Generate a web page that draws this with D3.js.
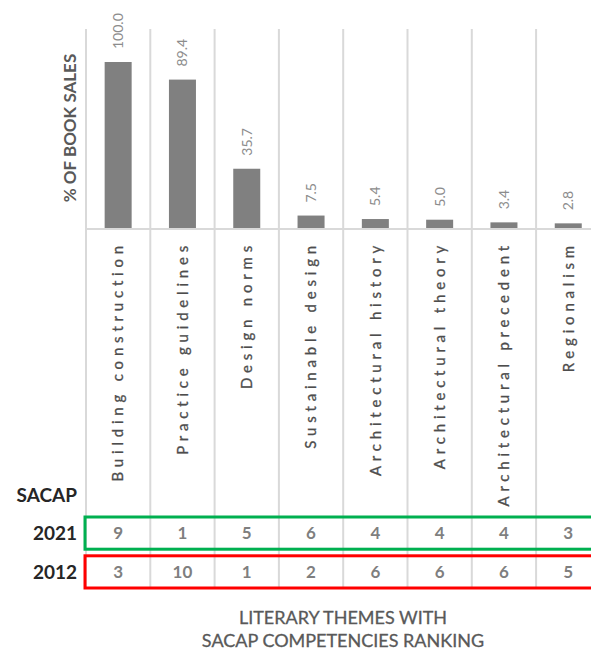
<!DOCTYPE html>
<html>
<head>
<meta charset="utf-8">
<script src="https://cdn.jsdelivr.net/npm/d3@7"></script>
<style>
  html, body { margin: 0; padding: 0; background: #fff; }
  svg { display: block; font-family: Lato, "Open Sans", sans-serif; }
</style>
</head>
<body>
<div class="svg-wrapper"></div>
<script>
// chart values
var themes   = ["Building construction", "Practice guidelines", "Design norms", "Sustainable design",
                "Architectural history", "Architectural theory", "Architectural precedent", "Regionalism"];
var sales    = [100.0, 89.4, 35.7, 7.5, 5.4, 5.0, 3.4, 2.8];
var years    = ["2021", "2012"];
var rank2021 = [9, 1, 5, 6, 4, 4, 4, 3];
var rank2012 = [3, 10, 1, 2, 6, 6, 6, 5];
var yAxisLabel = "% OF BOOK SALES";
var rowHeader  = "SACAP";
var xTitle     = ["LITERARY THEMES WITH", "SACAP COMPETENCIES RANKING"];

var ranks = { "2021": rank2021, "2012": rank2012 };
var boxColor = { "2021": "#00b050", "2012": "#ff0000" };

var width = 591, height = 653;
var gridTop = 29, baseY = 228, tableBottom = 588;

var svg = d3.select(".svg-wrapper").append("svg")
  .attr("width", width)
  .attr("height", height);

var x = d3.scaleBand().domain(themes).range([86, 86 + 8 * 64.3]).padding(0);
var y = d3.scaleLinear().domain([0, 100]).range([baseY, 62]);
var row = d3.scaleBand().domain(years).range([517, 588]).paddingInner(0.17);

var barW = x.bandwidth() * 0.42;

// vertical grid lines
svg.append("g").selectAll("line")
  .data(themes)
  .join("line")
    .attr("x1", function(d) { return x(d); })
    .attr("x2", function(d) { return x(d); })
    .attr("y1", gridTop)
    .attr("y2", tableBottom)
    .attr("stroke", "#d9d9d9")
    .attr("stroke-width", 2);

// baseline
svg.append("line")
  .attr("x1", x.range()[0]).attr("x2", x.range()[1])
  .attr("y1", baseY + 1).attr("y2", baseY + 1)
  .attr("stroke", "#d9d9d9")
  .attr("stroke-width", 2);

// bars
svg.append("g").selectAll("rect")
  .data(sales)
  .join("rect")
    .attr("x", function(d, i) { return x(themes[i]) + (x.bandwidth() - barW) / 2; })
    .attr("y", function(d) { return y(d); })
    .attr("width", barW)
    .attr("height", function(d) { return baseY - y(d); })
    .attr("fill", "#808080");

// value labels
svg.append("g").selectAll("text")
  .data(sales)
  .join("text")
    .attr("transform", function(d, i) {
      return "translate(" + (x(themes[i]) + x.bandwidth() / 2) + "," + (y(d) - 13) + ") rotate(-90)";
    })
    .attr("dy", "0.35em")
    .attr("text-anchor", "start")
    .attr("font-size", 14)
    .attr("fill", "#8c8c8c")
    .text(function(d) { return d.toFixed(1); });

// category labels
svg.append("g").selectAll("text")
  .data(themes)
  .join("text")
    .attr("transform", function(d) {
      return "translate(" + (x(d) + x.bandwidth() / 2) + "," + 241 + ") rotate(-90)";
    })
    .attr("dy", "0.35em")
    .attr("text-anchor", "end")
    .attr("font-size", 15)
    .attr("letter-spacing", "4.8px")
    .attr("fill", "#4d4d4d")
    .attr("stroke", "#4d4d4d")
    .attr("stroke-width", 0.3)
    .text(function(d) { return d; });

// y axis title
svg.append("text")
  .attr("transform", "translate(70,128) rotate(-90)")
  .attr("dy", "0.35em")
  .attr("text-anchor", "middle")
  .attr("font-size", 17)
  .attr("font-weight", "bold")
  .attr("fill", "#595959")
  .text(yAxisLabel);

// table header
svg.append("text")
  .attr("x", 77).attr("y", 502)
  .attr("text-anchor", "end")
  .attr("font-size", 19)
  .attr("font-weight", "bold")
  .attr("fill", "#262626")
  .text(rowHeader);

// table rows
years.forEach(function(yr) {
  var g = svg.append("g");
  g.append("rect")
    .attr("x", 85)
    .attr("y", row(yr))
    .attr("width", 560)
    .attr("height", row.bandwidth())
    .attr("fill", "none")
    .attr("stroke", boxColor[yr])
    .attr("stroke-width", 3);
  g.append("text")
    .attr("x", 77)
    .attr("y", row(yr) + row.bandwidth() / 2)
    .attr("dy", "0.35em")
    .attr("text-anchor", "end")
    .attr("font-size", 19)
    .attr("font-weight", "bold")
    .attr("fill", "#262626")
    .text(yr);
  g.selectAll("text.rank")
    .data(ranks[yr])
    .join("text")
      .attr("class", "rank")
      .attr("x", function(d, i) { return x(themes[i]) + x.bandwidth() / 2; })
      .attr("y", row(yr) + row.bandwidth() / 2)
      .attr("dy", "0.35em")
      .attr("text-anchor", "middle")
      .attr("font-size", 17)
      .attr("font-weight", "bold")
      .attr("fill", "#7f7f7f")
      .text(function(d) { return d; });
});

// x title
svg.append("g").selectAll("text")
  .data(xTitle)
  .join("text")
    .attr("x", 343)
    .attr("y", function(d, i) { return 624 + i * 23; })
    .attr("text-anchor", "middle")
    .attr("font-size", 18)
    .attr("fill", "#595959")
    .attr("stroke", "#595959")
    .attr("stroke-width", 0.3)
    .text(function(d) { return d; });
</script>
</body>
</html>
